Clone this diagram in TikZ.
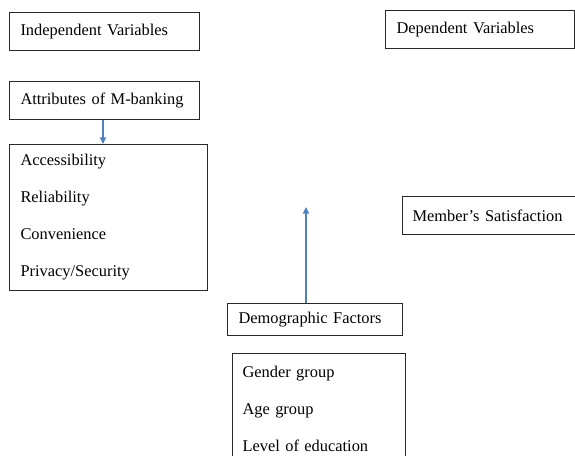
\documentclass[tikz,border=0pt]{standalone}
\usepackage{fontspec}
\setmainfont{Liberation Serif}
\usetikzlibrary{arrows.meta}

\definecolor{arrowblue}{RGB}{79,129,189}

\tikzset{every picture/.style={line width=0.75pt}}
\tikzset{
  varbox/.style={draw={rgb, 255:red, 40; green, 40; blue, 40}, anchor=north west, inner xsep=8.25pt, inner ysep=0pt, align=left, font=\fontsize{12.3}{14}\selectfont},
  listbox/.style={varbox, font=\fontsize{12.3}{27.75}\selectfont},
  linkarrow/.style={draw=arrowblue, line width=1.1pt, -{Triangle[length=5pt,width=4.5pt]}}
}

\begin{document}
\begin{tikzpicture}[x=0.75pt,y=0.75pt,yscale=-1,xscale=1]
\useasboundingbox (0,0) rectangle (575,456);
\clip (0,0) rectangle (575,456);

% Independent side
\draw (9,12) node [varbox, text width=126pt, minimum height=28.5pt] (indep) {Independent Variables};
\draw (9,81) node [varbox, text width=126pt, minimum height=28.5pt] (attrib) {Attributes of M-banking};
\draw (9,144) node [listbox, text width=132pt, minimum height=109.5pt] (attriblist) {Accessibility\\Reliability\\Convenience\\Privacy/Security};

% Dependent side
\draw (385,10) node [varbox, text width=125.25pt, minimum height=28.5pt] (dep) {Dependent Variables};
\draw (402,196) node [varbox, inner xsep=7.5pt, text width=135pt, minimum height=28.5pt] (satisf) {Member's Satisfaction};

% Demographics
\draw (227,303) node [varbox, text width=114.75pt, minimum height=24pt] (demo) {Demographic Factors};
\draw (232,353) node [listbox, inner xsep=7.5pt, text width=114.75pt, minimum height=83pt] (demolist) {Gender group\\Age group\\Level of education};

% Arrows
\coordinate (demotip) at (306,207);
\draw [linkarrow] (attrib.south -| 103,0) -- (attriblist.north -| 103,0);
\draw [linkarrow] (demo.north -| demotip) -- (demotip);

\end{tikzpicture}
\end{document}
